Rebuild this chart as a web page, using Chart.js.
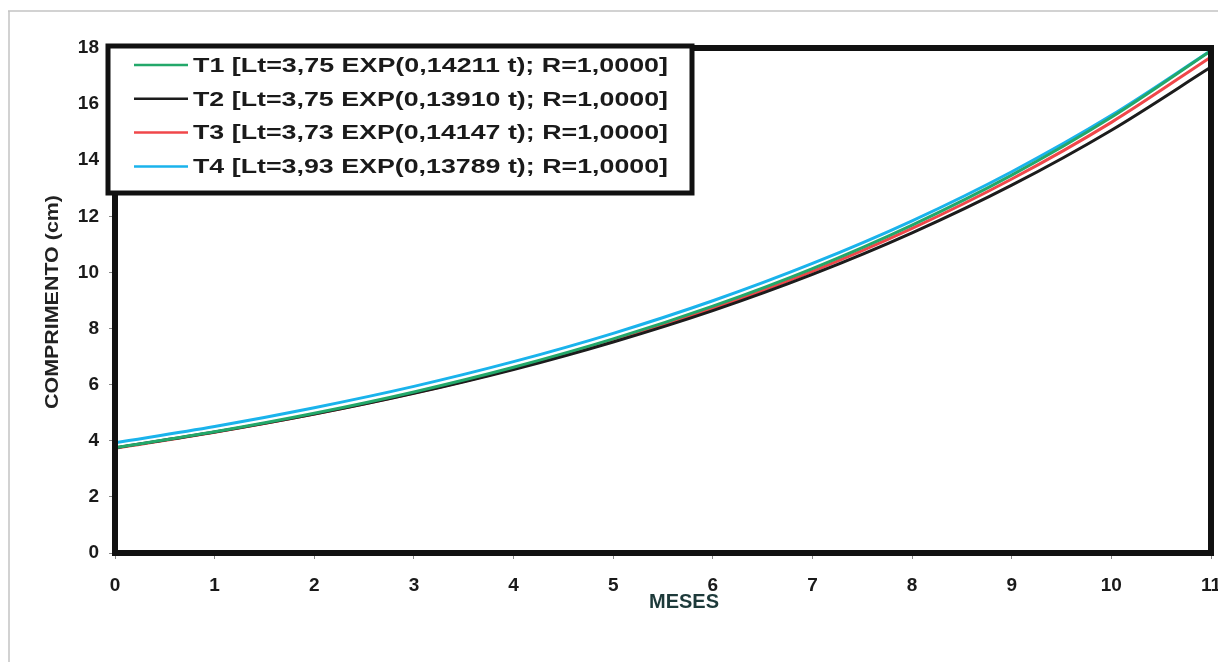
<!DOCTYPE html>
<html>
<head>
<meta charset="utf-8">
<script src="https://cdn.jsdelivr.net/npm/chart.js@4.4.1/dist/chart.umd.min.js"></script>
<style>
  html, body { margin: 0; padding: 0; background: #fff; }
  #wrap { width: 1218px; height: 662px; position: relative; }
</style>
</head>
<body>
<div id="wrap"><canvas id="growthChart" width="1218" height="662"></canvas></div>
<script>
// months (x) and fitted lengths
const meses = [0, 1, 2, 3, 4, 5, 6, 7, 8, 9, 10, 11];
const yTicks = [0, 2, 4, 6, 8, 10, 12, 14, 16, 18];

const t1 = [3.75, 4.32, 4.98, 5.74, 6.62, 7.63, 8.80, 10.14, 11.69, 13.47, 15.53, 17.90];
const t2 = [3.75, 4.31, 4.95, 5.69, 6.54, 7.52, 8.64, 9.93, 11.41, 13.11, 15.07, 17.32];
const t3 = [3.73, 4.30, 4.95, 5.70, 6.57, 7.57, 8.72, 10.04, 11.57, 13.33, 15.35, 17.68];
const t4 = [3.93, 4.51, 5.18, 5.94, 6.82, 7.83, 8.99, 10.32, 11.84, 13.59, 15.60, 17.91];

const seriesNames = [
  'T1 [Lt=3,75 EXP(0,14211 t); R=1,0000]',
  'T2 [Lt=3,75 EXP(0,13910 t); R=1,0000]',
  'T3 [Lt=3,73 EXP(0,14147 t); R=1,0000]',
  'T4 [Lt=3,93 EXP(0,13789 t); R=1,0000]'
];
const seriesColors = ['#23a86a', '#1c1c1c', '#f0474a', '#1ab3ec'];

const FONT = '"Liberation Sans", Arial, sans-serif';

// draws text stretched horizontally to a given width (the scan is wider than Arial)
function stretchText(ctx, text, x, y, width) {
  const w = ctx.measureText(text).width;
  ctx.save();
  ctx.translate(x, y);
  ctx.scale(width / w, 1);
  ctx.fillText(text, 0, 0);
  ctx.restore();
}

// frame, plot border, axis titles and boxed legend
const decorPlugin = {
  id: 'decor',
  beforeDraw(chart) {
    const ctx = chart.ctx;
    ctx.save();
    ctx.strokeStyle = '#c4c4c4';
    ctx.lineWidth = 1.5;
    ctx.beginPath();
    ctx.moveTo(8, 11); ctx.lineTo(1218, 11);
    ctx.moveTo(9, 11); ctx.lineTo(9, 662);
    ctx.stroke();
    ctx.restore();
  },
  afterDatasetsDraw(chart) {
    const ctx = chart.ctx;
    const a = chart.chartArea;
    ctx.save();
    ctx.strokeStyle = '#111';
    ctx.lineWidth = 6;
    ctx.strokeRect(a.left, a.top, a.right - a.left, a.bottom - a.top);
    ctx.restore();
  },
  afterDraw(chart) {
    const ctx = chart.ctx;
    ctx.save();
    // axis titles
    ctx.fillStyle = '#1d3a3a';
    ctx.font = 'bold 20px ' + FONT;
    ctx.textAlign = 'center';
    ctx.textBaseline = 'middle';
    ctx.fillText('MESES', 684, 602);
    ctx.fillStyle = '#222';
    ctx.translate(53, 302);
    ctx.rotate(-Math.PI / 2);
    ctx.textAlign = 'left';
    ctx.font = 'bold 19px ' + FONT;
    stretchText(ctx, 'COMPRIMENTO (cm)', -107, 0, 214);
    ctx.restore();

    // legend box
    ctx.save();
    const bx = 108, by = 46, bw = 584, bh = 147;
    ctx.fillStyle = '#fff';
    ctx.fillRect(bx, by, bw, bh);
    ctx.strokeStyle = '#111';
    ctx.lineWidth = 5;
    ctx.strokeRect(bx, by, bw, bh);
    ctx.font = 'bold 21px ' + FONT;
    ctx.textBaseline = 'middle';
    ctx.textAlign = 'left';
    chart.data.datasets.forEach((ds, i) => {
      const y = 65 + i * 33.8;
      ctx.strokeStyle = ds.borderColor;
      ctx.lineWidth = 2.5;
      ctx.beginPath();
      ctx.moveTo(134, y);
      ctx.lineTo(188, y);
      ctx.stroke();
      ctx.fillStyle = '#1a1a1a';
      stretchText(ctx, ds.label, 193, y + 1, 475);
    });
    ctx.restore();
  }
};

const datasets = [t1, t2, t3, t4].map((vals, i) => ({
  label: seriesNames[i],
  data: vals,
  borderColor: seriesColors[i],
  backgroundColor: seriesColors[i],
  borderWidth: 3,
  pointRadius: 0,
  tension: 0.4,
  cubicInterpolationMode: 'monotone',
  fill: false
}));

new Chart(document.getElementById('growthChart').getContext('2d'), {
  type: 'line',
  data: { labels: meses, datasets: datasets },
  options: {
    responsive: false,
    animation: false,
    devicePixelRatio: 1,
    layout: { padding: { left: 0, top: 48, right: 7, bottom: 0 } },
    plugins: { legend: { display: false }, tooltip: { enabled: false } },
    scales: {
      x: {
        type: 'category',
        offset: false,
        grid: { drawOnChartArea: false, tickLength: 6, color: '#888', tickWidth: 1 },
        border: { display: false },
        ticks: {
          color: '#1a1a1a',
          font: { family: FONT, size: 19, weight: 'bold' },
          padding: 15,
          maxRotation: 0,
          autoSkip: false
        },
        afterFit(s) { s.height = 109; s.paddingLeft = 0; s.paddingRight = 0; }
      },
      y: {
        min: 0,
        max: 18,
        afterBuildTicks(s) { s.ticks = yTicks.map(v => ({ value: v })); },
        grid: { drawOnChartArea: false, tickLength: 6, color: '#888', tickWidth: 1 },
        border: { display: false },
        ticks: {
          color: '#1a1a1a',
          font: { family: FONT, size: 19, weight: 'bold' },
          padding: 10
        },
        afterFit(s) { s.width = 115; s.paddingTop = 0; s.paddingBottom = 0; }
      }
    }
  },
  plugins: [decorPlugin]
});
</script>
</body>
</html>
